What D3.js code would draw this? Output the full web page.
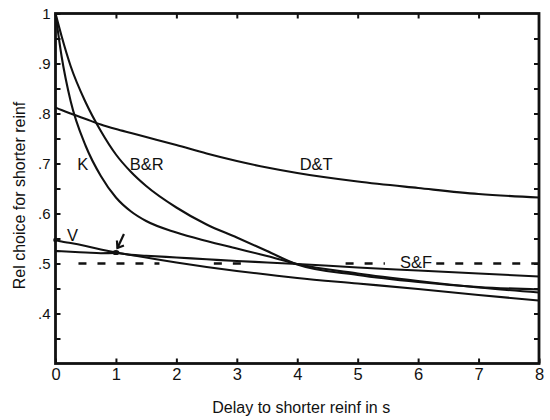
<!DOCTYPE html>
<html>
<head>
<meta charset="utf-8">
<script src="https://cdn.jsdelivr.net/npm/d3@7"></script>
<style>
  body { margin: 0; background: #fff; }
  text { font-family: "Liberation Sans", Arial, sans-serif; fill: #111; }
</style>
</head>
<body>
<svg id="chart" width="550" height="420"></svg>
<script>
// Delay grid (s) shared by every curve
const delays = [0, 0.1, 0.25, 0.5, 0.75, 1, 1.25, 1.5, 2, 2.5, 3, 3.5, 4, 5, 6, 7, 8];

// Relative choice for the shorter reinforcer, one array per model
const kValues  = [1.000, 0.915, 0.825, 0.735, 0.675, 0.632, 0.604, 0.585, 0.562, 0.545, 0.530, 0.515, 0.499, 0.480, 0.465, 0.452, 0.442];
const brValues = [1.000, 0.955, 0.895, 0.822, 0.765, 0.718, 0.683, 0.655, 0.612, 0.578, 0.552, 0.525, 0.498, 0.477, 0.463, 0.453, 0.448];
const dtValues = [0.812, 0.807, 0.800, 0.789, 0.778, 0.769, 0.761, 0.753, 0.737, 0.720, 0.705, 0.692, 0.681, 0.664, 0.651, 0.639, 0.632];
const vValues  = [0.547, 0.544, 0.541, 0.535, 0.528, 0.522, 0.517, 0.512, 0.502, 0.493, 0.485, 0.478, 0.471, 0.460, 0.449, 0.437, 0.426];
const flatValues = [0.525, 0.5245, 0.5235, 0.522, 0.5205, 0.521, 0.5172, 0.5155, 0.512, 0.5085, 0.505, 0.502, 0.499, 0.492, 0.486, 0.480, 0.474];

// Indifference level (S&F) and the stretches where its dashes are drawn
const indifference = 0.5;
const dashSpans = [[0.38, 1.72], [2.62, 3.2], [4.8, 5.45], [6.3, 8]];

// Marked points
const markedPoints = [{d: 0, v: 0.547, rx: 2.3, ry: 2.3}, {d: 1, v: 0.522, rx: 3.5, ry: 2.6}];

// Curve labels (delay, choice) of the text baseline start
const curveLabels = [
  {text: "K",   d: 0.36, v: 0.688},
  {text: "B&R", d: 1.23, v: 0.688},
  {text: "D&T", d: 4.04, v: 0.688},
  {text: "V",   d: 0.19, v: 0.546},
  {text: "S&F", d: 5.70, v: 0.492}
];

// Axis ticks
const xTicks = [0, 1, 2, 3, 4, 5, 6, 7, 8];
const xTickLabels = ["0", "1", "2", "3", "4", "5", "6", "7", "8"];
const yTicks = [0.35, 0.4, 0.45, 0.5, 0.55, 0.6, 0.65, 0.7, 0.75, 0.8, 0.85, 0.9, 0.95];
const yMajor = [0.4, 0.5, 0.6, 0.7, 0.8, 0.9, 1.0];
const yTickLabels = [".4", ".5", ".6", ".7", ".8", ".9", "1"];

const svg = d3.select("#chart");
const x = d3.scaleLinear().domain([0, 8]).range([55.5, 539]);
const y = d3.scaleLinear().domain([0.3, 1]).range([363.5, 13.5]);
const ink = "#111";

// Curves
const line = d3.line()
  .x((d, i) => x(delays[i]))
  .y(d => y(d))
  .curve(d3.curveMonotoneX);

[kValues, brValues, dtValues, vValues, flatValues].forEach(vals => {
  svg.append("path")
    .attr("d", line(vals))
    .attr("fill", "none")
    .attr("stroke", ink)
    .attr("stroke-width", 2.1);
});

// Dashed indifference line
dashSpans.forEach(([a, b]) => {
  svg.append("line")
    .attr("x1", x(a)).attr("x2", x(b))
    .attr("y1", y(indifference)).attr("y2", y(indifference))
    .attr("stroke", ink)
    .attr("stroke-width", 2.4)
    .attr("stroke-dasharray", "8,11");
});

// Points
markedPoints.forEach(p => {
  svg.append("ellipse")
    .attr("cx", x(p.d)).attr("cy", y(p.v))
    .attr("rx", p.rx).attr("ry", p.ry)
    .attr("fill", ink);
});

// Arrow pointing at the point at 1 s
const tipX = x(1) + 1.5, tipY = y(0.522) - 4.5;
svg.append("path")
  .attr("d", `M${tipX + 6.5},${tipY - 14} L${tipX},${tipY}`)
  .attr("stroke", ink).attr("stroke-width", 2.2).attr("fill", "none");
svg.append("path")
  .attr("d", `M${tipX - 0.5},${tipY - 7.5} L${tipX},${tipY} L${tipX + 6.5},${tipY - 2.5}`)
  .attr("stroke", ink).attr("stroke-width", 2.2).attr("fill", "none");

// Curve labels
svg.selectAll("text.curve-label")
  .data(curveLabels)
  .join("text")
  .attr("class", "curve-label")
  .attr("x", d => x(d.d))
  .attr("y", d => y(d.v))
  .attr("font-size", 16.5)
  .text(d => d.text);

// Axes with inward ticks
const fmtY = v => {
  const i = yMajor.findIndex(m => Math.abs(m - v) < 1e-9);
  return i >= 0 ? yTickLabels[i] : "";
};

const xAxis = svg.append("g")
  .attr("transform", `translate(0,${y(0.3)})`)
  .call(d3.axisBottom(x).tickValues(xTicks).tickSize(-5).tickPadding(5)
    .tickFormat((d, i) => xTickLabels[i]));
xAxis.selectAll("text").attr("font-size", 16.5).attr("fill", ink);

const yAxis = svg.append("g")
  .attr("transform", `translate(${x(0)},0)`)
  .call(d3.axisLeft(y).tickValues(yTicks.concat([1.0])).tickSize(-5).tickPadding(5)
    .tickFormat(fmtY));
yAxis.selectAll("text").attr("font-size", 15).attr("fill", ink);

const topAxis = svg.append("g")
  .attr("transform", `translate(0,${y(1)})`)
  .call(d3.axisTop(x).tickValues(xTicks.slice(1, -1)).tickSize(-5).tickFormat(""));

const rightAxis = svg.append("g")
  .attr("transform", `translate(${x(8)},0)`)
  .call(d3.axisRight(y).tickValues(yTicks).tickSize(-5).tickFormat(""));

[xAxis, yAxis, topAxis, rightAxis].forEach(g => {
  g.select(".domain").remove();
  g.selectAll(".tick line").attr("stroke", ink).attr("stroke-width", 2);
});

// Frame
svg.append("rect")
  .attr("x", x(0)).attr("y", y(1))
  .attr("width", x(8) - x(0)).attr("height", y(0.3) - y(1))
  .attr("fill", "none")
  .attr("stroke", ink)
  .attr("stroke-width", 2.8);

// Axis titles
svg.append("text")
  .attr("x", (x(0) + x(8)) / 2 + 4)
  .attr("y", 413)
  .attr("text-anchor", "middle")
  .attr("font-size", 16)
  .text("Delay to shorter reinf in s");

svg.append("text")
  .attr("transform", `translate(25,${(y(0.3) + y(1)) / 2 + 7}) rotate(-90)`)
  .attr("text-anchor", "middle")
  .attr("font-size", 16)
  .text("Rel choice for shorter reinf");
</script>
</body>
</html>
